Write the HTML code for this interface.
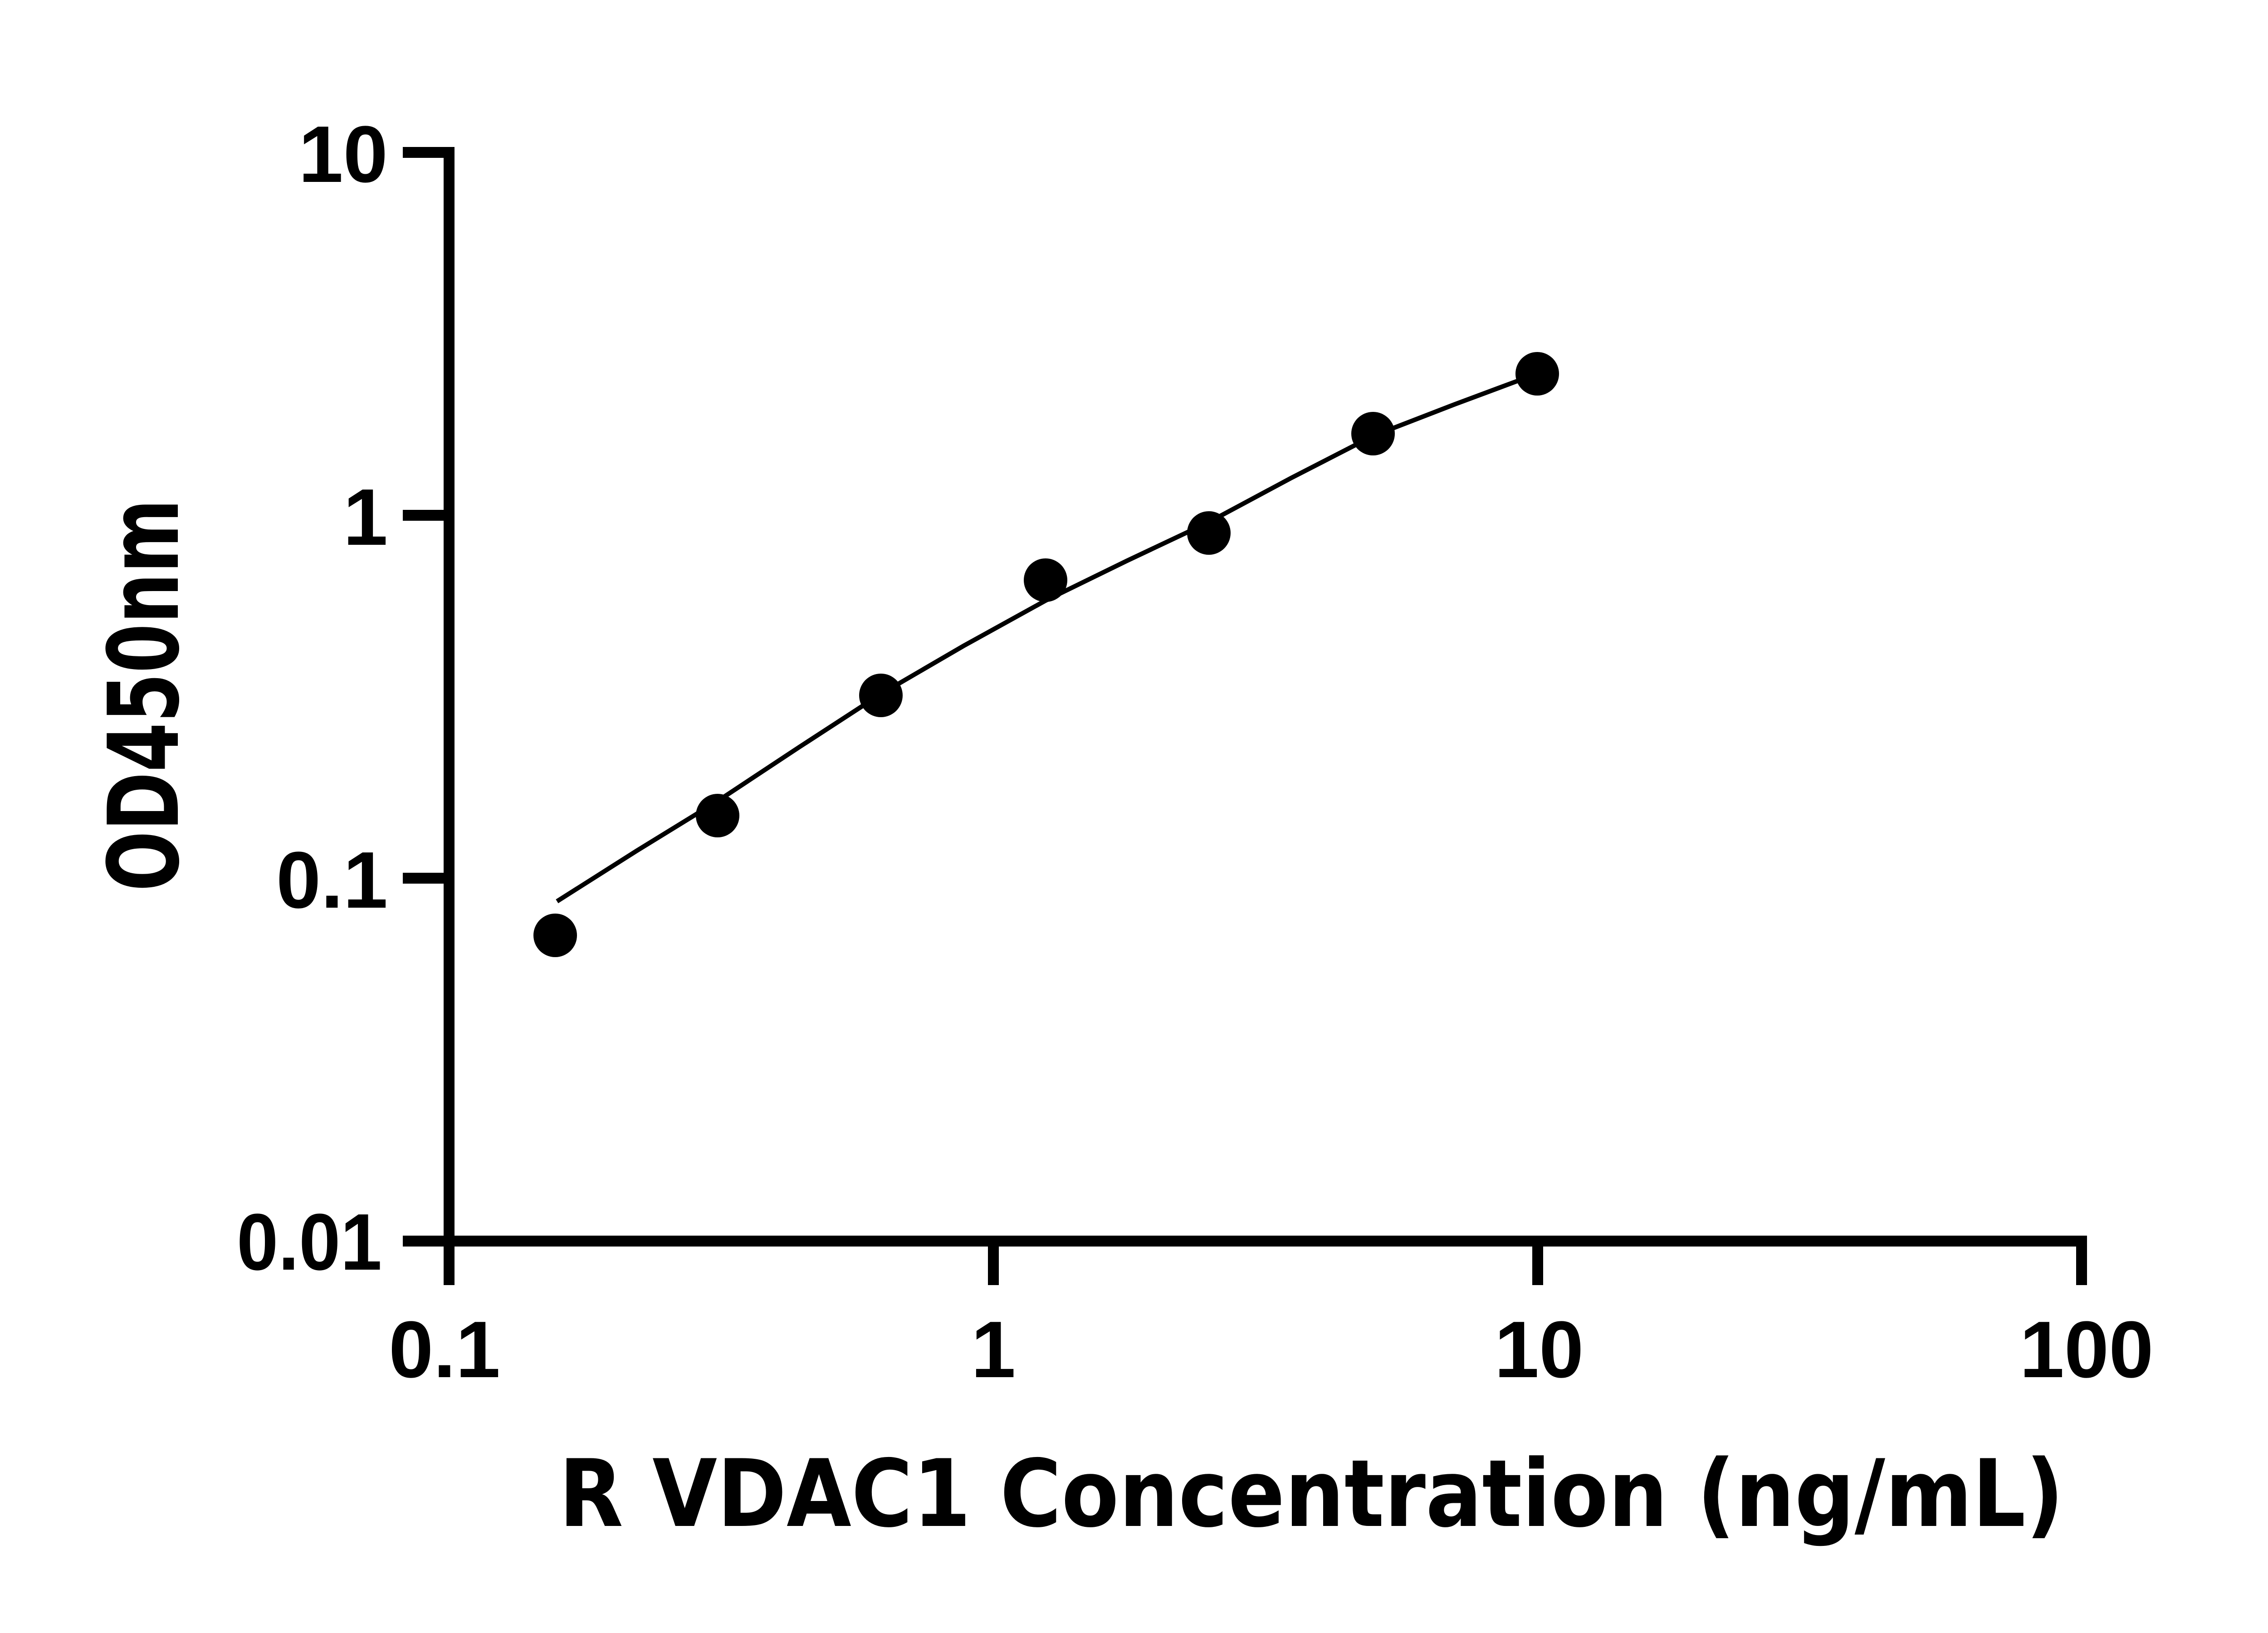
<!DOCTYPE html>
<html><head><meta charset="utf-8"><style>html,body{margin:0;padding:0;background:#fff}svg{display:block}</style></head>
<body>
<svg width="5142" height="3600" viewBox="0 0 5142 3600" xmlns="http://www.w3.org/2000/svg">
<rect width="5142" height="3600" fill="#fff"/>
<g stroke="#000" stroke-width="24" fill="none" stroke-linecap="butt">
<line x1="990" y1="324" x2="990" y2="2748"/>
<line x1="978" y1="2736" x2="4601" y2="2736"/>
<line x1="888" y1="336" x2="1002" y2="336"/>
<line x1="888" y1="1136" x2="1002" y2="1136"/>
<line x1="888" y1="1936" x2="1002" y2="1936"/>
<line x1="888" y1="2736" x2="1002" y2="2736"/>
<line x1="990" y1="2736" x2="990" y2="2833"/>
<line x1="2190" y1="2736" x2="2190" y2="2833"/>
<line x1="3390" y1="2736" x2="3390" y2="2833"/>
<line x1="4589" y1="2724" x2="4589" y2="2833"/>
</g>
<g font-family="Liberation Sans, Arial, sans-serif" font-weight="bold" font-size="177" fill="#000">
<g text-anchor="end">
<text x="855" y="401">10</text>
<text x="855" y="1201">1</text>
<text x="855" y="2001">0.1</text>
<text x="842" y="2799" textLength="320" lengthAdjust="spacingAndGlyphs">0.01</text>
</g>
<g text-anchor="middle">
<text x="980" y="3036">0.1</text>
<text x="2190" y="3036">1</text>
<text x="3393" y="3036">10</text>
<text x="4600" y="3036">100</text>
</g>
</g>
<text x="1232" y="3364" font-family="DejaVu Sans, Liberation Sans, sans-serif" font-weight="bold" font-size="205" textLength="3318" lengthAdjust="spacingAndGlyphs">R VDAC1 Concentration (ng/mL)</text>
<text transform="translate(392,1965) rotate(-90)" font-family="DejaVu Sans, Liberation Sans, sans-serif" font-weight="bold" font-size="215" textLength="865" lengthAdjust="spacingAndGlyphs">OD450nm</text>
<polyline points="1228,1987 1403,1876 1582,1766 1762,1647 1942,1530 2124,1424 2305,1324 2485,1236 2665,1151 2846,1054 3027,961 3208,891 3345,840" fill="none" stroke="#000" stroke-width="10"/>
<g fill="#000">
<circle cx="1224" cy="2062" r="48"/>
<circle cx="1582" cy="1798" r="48"/>
<circle cx="1942" cy="1533" r="48"/>
<circle cx="2305" cy="1279" r="48"/>
<circle cx="2665" cy="1175" r="48"/>
<circle cx="3027" cy="956" r="48"/>
<circle cx="3389" cy="824" r="48"/>
</g>
</svg>
</body></html>
